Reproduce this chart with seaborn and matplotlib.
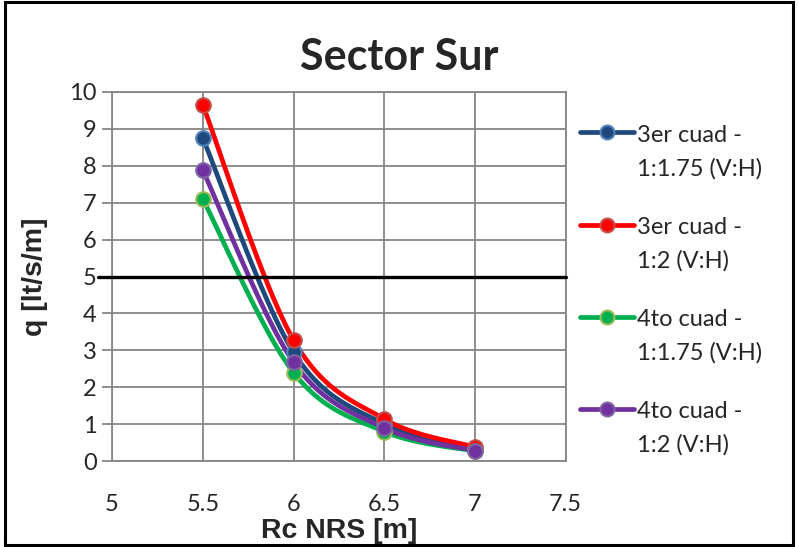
import numpy as np
import pandas as pd
import matplotlib
matplotlib.use("Agg")
import matplotlib.pyplot as plt
import seaborn as sns
from matplotlib.lines import Line2D
from matplotlib.patches import Rectangle
from matplotlib.legend_handler import HandlerLine2D

# ---- data ----
rc = [5.5, 6.0, 6.5, 7.0]
q_3er_175 = [8.75, 2.95, 1.00, 0.30]
q_3er_2 = [9.65, 3.28, 1.14, 0.38]
q_4to_175 = [7.10, 2.40, 0.80, 0.27]
q_4to_2 = [7.88, 2.68, 0.90, 0.28]
labels = ["3er cuad -\n1:1.75 (V:H)", "3er cuad -\n1:2 (V:H)",
          "4to cuad -\n1:1.75 (V:H)", "4to cuad -\n1:2 (V:H)"]
series = [q_3er_175, q_3er_2, q_4to_175, q_4to_2]
threshold = 5
x_ticks = [5, 5.5, 6, 6.5, 7, 7.5]
y_ticks = list(range(0, 11))

line_colors = ["#1F497D", "#FF0000", "#00B050", "#7030A0"]
edge_colors = ["#4F81BD", "#C0504D", "#9BBB59", "#8064A2"]

sns.set_theme(style="white")
plt.rcParams["font.family"] = ["Lato", "DejaVu Sans"]


def smooth(xs, ys, n=40):
    # Catmull-Rom style smoothing (as used by spreadsheet "smoothed line")
    xs = np.asarray(xs, float); ys = np.asarray(ys, float)
    px = np.concatenate([[xs[0]], xs, [xs[-1]]])
    py = np.concatenate([[ys[0]], ys, [ys[-1]]])
    ox, oy = [], []
    for i in range(1, len(px) - 2):
        p0 = np.array([px[i - 1], py[i - 1]]); p1 = np.array([px[i], py[i]])
        p2 = np.array([px[i + 1], py[i + 1]]); p3 = np.array([px[i + 2], py[i + 2]])
        c1 = p1 + (p2 - p0) / 6.0
        c2 = p2 - (p3 - p1) / 6.0
        t = np.linspace(0, 1, n)[:, None]
        pts = ((1 - t) ** 3) * p1 + 3 * ((1 - t) ** 2) * t * c1 + 3 * (1 - t) * t ** 2 * c2 + t ** 3 * p2
        ox.extend(pts[:, 0]); oy.extend(pts[:, 1])
    return np.array(ox), np.array(oy)


fig = plt.figure(figsize=(7.98, 5.47), dpi=100)
ax = fig.add_axes([0.1404, 0.157, 0.5685, 0.675])

for ys, lab, lc, ec in zip(series, labels, line_colors, edge_colors):
    sx, sy = smooth(rc, ys)
    dfl = pd.DataFrame({"x": sx, "y": sy})
    sns.lineplot(data=dfl, x="x", y="y", ax=ax, color=lc, lw=3.4, sort=False,
                 estimator=None, legend=False)
    dfp = pd.DataFrame({"x": rc, "y": ys})
    sns.scatterplot(data=dfp, x="x", y="y", ax=ax, color=lc, edgecolor=ec,
                    linewidth=1.5, s=110, legend=False, zorder=3)

ax.axhline(threshold, xmin=-0.031, xmax=1, color="black", lw=2.4, clip_on=False, zorder=4)

ax.set_xlim(5, 7.5)
ax.set_ylim(0, 10)
ax.set_xticks(x_ticks)
ax.set_xticklabels([f"{v:g}" for v in x_ticks])
ax.set_yticks(y_ticks)
ax.grid(True, color="#868686", lw=1.3)
for s in ax.spines.values():
    s.set_color("#868686"); s.set_linewidth(1.3)
ax.tick_params(axis="y", length=7, width=1.3, color="#868686", direction="out",
               labelsize=17, pad=4, left=True)
ax.tick_params(axis="x", length=0, labelsize=17, pad=24)
ax.set_xlabel("Rc NRS [m]", fontsize=20.5, fontweight="bold", labelpad=2,
              family=["Liberation Sans", "DejaVu Sans"])
ax.set_ylabel("q [lt/s/m]", fontsize=20.5, fontweight="bold", labelpad=15,
              family=["Liberation Sans", "DejaVu Sans"])
fig.text(0.5, 0.895, "Sector Sur", fontsize=31,
         fontweight="bold", ha="center", va="center")


class UpHandler(HandlerLine2D):
    def create_artists(self, legend, orig_handle, xdescent, ydescent, width, height, fontsize, trans):
        arts = super().create_artists(legend, orig_handle, xdescent, ydescent, width, height, fontsize, trans)
        shift = fontsize * 0.84
        for a in arts:
            a.set_ydata(np.asarray(a.get_ydata()) + shift)
        return arts


handles = [Line2D([], [], color=lc, lw=3.4, marker="o", markersize=10,
                  markerfacecolor=lc, markeredgecolor=ec, markeredgewidth=1.5)
           for lc, ec in zip(line_colors, edge_colors)]
leg = fig.legend(handles, labels, loc="upper left", bbox_to_anchor=(0.70, 0.811),
                 frameon=False, fontsize=17, handlelength=2.3, handletextpad=0.1,
                 labelspacing=1.58, handler_map={Line2D: UpHandler(numpoints=1)})
for t in leg.get_texts():
    t.set_linespacing(1.7)

fig.patches.append(Rectangle((0.006, 0.003), 0.988, 0.993, transform=fig.transFigure,
                             fill=False, edgecolor="black", lw=2.2))

fig.savefig("out.png", dpi=100)
